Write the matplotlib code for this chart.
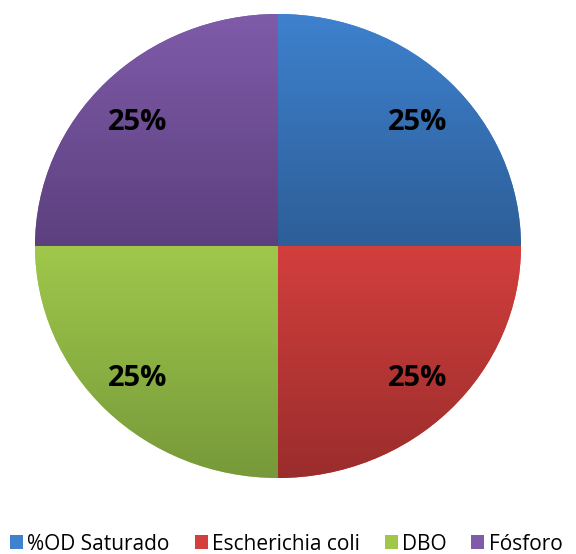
import numpy as np
import matplotlib
matplotlib.use("Agg")
import matplotlib.pyplot as plt
from matplotlib.colors import LinearSegmentedColormap
from matplotlib.patches import Patch

categories = ["%OD Saturado", "Escherichia coli", "DBO", "Fósforo"]
values = [25, 25, 25, 25]
top_colors = ["#3e81ce", "#d23f3d", "#9fc84b", "#7f5ba9"]
bottom_colors = ["#2d5e98", "#9a2d2c", "#77993a", "#5c407e"]

W, H = 576, 554
fig = plt.figure(figsize=(W / 100, H / 100), dpi=100)
ax = fig.add_axes([35 / W, 76 / H, 486 / W, 464 / H])

wedges, _ = ax.pie(values, startangle=90, counterclock=False, radius=1,
                   colors=top_colors, wedgeprops=dict(linewidth=0))
ax.set_aspect("auto")
ax.set_xlim(-1, 1)
ax.set_ylim(-1, 1)
ax.axis("off")

# vertical gradient fill for each wedge
grad = np.linspace(0, 1, 256).reshape(-1, 1)
for w, c0, c1 in zip(wedges, top_colors, bottom_colors):
    path = w.get_path()
    verts = w.get_transform().transform(path.vertices)
    verts = ax.transData.inverted().transform(verts)
    x0, y0 = verts.min(axis=0)
    x1, y1 = verts.max(axis=0)
    cmap = LinearSegmentedColormap.from_list("g", [c0, c1])
    im = ax.imshow(grad, cmap=cmap, extent=[x0, x1, y0, y1], origin="upper",
                   aspect="auto", zorder=2, interpolation="bicubic")
    im.set_clip_path(w)

# percentage labels
total = sum(values)
angle = 90.0
for v in values:
    span = 360.0 * v / total
    mid = np.deg2rad(angle - span / 2)
    angle -= span
    ax.text(0.815 * np.cos(mid), 0.78 * np.sin(mid) - 0.02,
            f"{v / total * 100:.0f}%",
            ha="center", va="center", fontsize=21, fontweight="bold",
            family="Open Sans", color="black", zorder=3)

handles = [Patch(facecolor=c, edgecolor="none") for c in top_colors]
fig.legend(handles, categories, loc="center", bbox_to_anchor=(0.497, 1 - 544 / H),
           ncol=4, frameon=False, handlelength=0.62, handleheight=0.62,
           handletextpad=0.2, columnspacing=1.2,
           prop=dict(family="Open Sans", size=15))

fig.savefig("out.png", dpi=100)
